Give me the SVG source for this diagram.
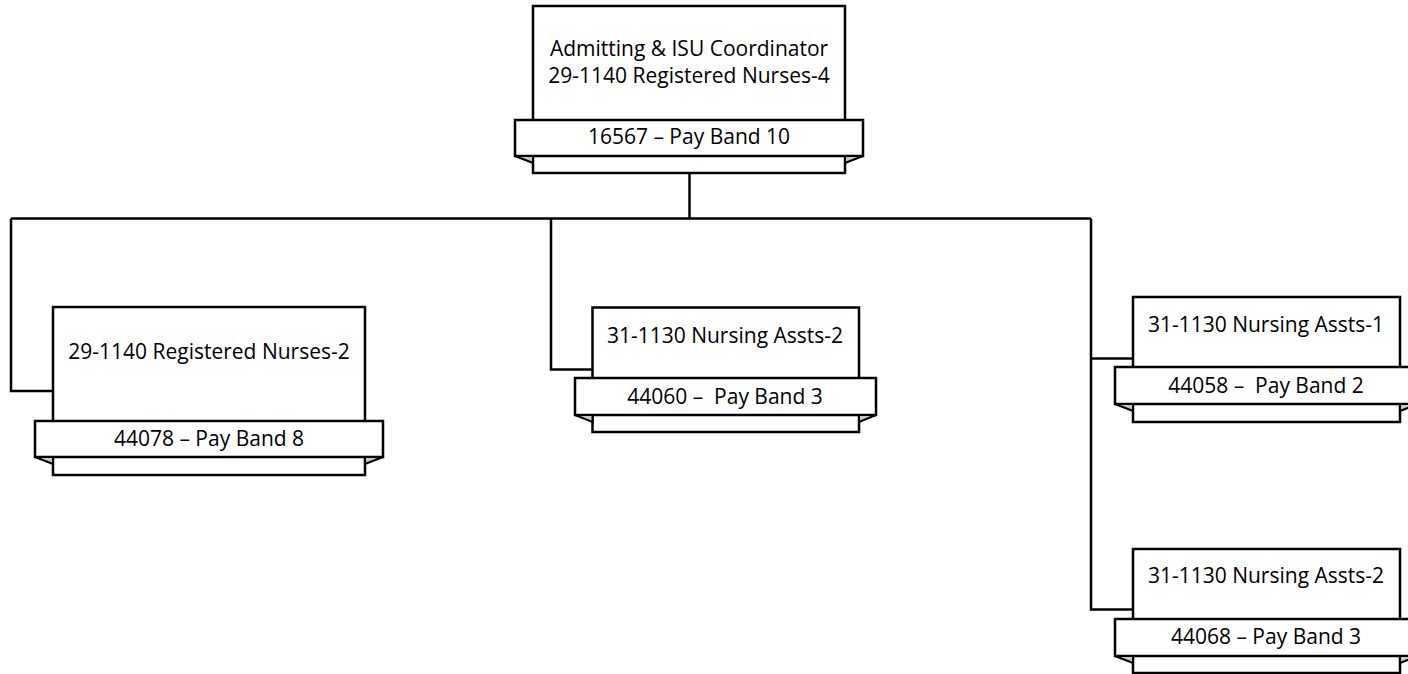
<svg xmlns="http://www.w3.org/2000/svg" width="1408" height="674" viewBox="0 0 1408 674">
<style>
.box{fill:#fff;stroke:#000;stroke-width:2.5}
.rib{fill:#fff;stroke:#000;stroke-width:2.5}
.fold{fill:#c8c8c8;stroke:#000;stroke-width:2;stroke-linejoin:miter}
.conn{fill:none;stroke:#000;stroke-width:2.5}
text{font-family:"Open Sans","Liberation Sans",sans-serif;font-size:21px;fill:#000;text-anchor:middle}
</style>
<rect width="1408" height="674" fill="#fff"/>
<g id="connectors">
<path class="conn" d="M689.5,173 V218.5 M11,218.5 H1091 M11,218.5 V391 H53 M551,218.5 V369.5 H592.5 M1091,218.5 V609.5 H1133 M1091,358.5 H1133"/>
</g>
<g id="node-top">
<rect class="box" x="533" y="6" width="312" height="167"/>
<rect class="rib" x="515" y="120" width="348" height="36"/>
<polygon class="fold" points="515,156 533,163 533,156"/>
<polygon class="fold" points="863,156 845,163 845,156"/>
<text x="689" y="56">Admitting &amp; ISU Coordinator</text>
<text x="689" y="83">29-1140 Registered Nurses-4</text>
<text x="689" y="144">16567 – Pay Band 10</text>
</g>
<g id="node-left">
<rect class="box" x="53" y="307" width="312" height="168"/>
<rect class="rib" x="35" y="421" width="348" height="36"/>
<polygon class="fold" points="35,457 53,464 53,457"/>
<polygon class="fold" points="383,457 365,464 365,457"/>
<text x="209" y="359">29-1140 Registered Nurses-2</text>
<text x="209" y="446">44078 – Pay Band 8</text>
</g>
<g id="node-mid">
<rect class="box" x="592.5" y="307.5" width="266.5" height="124.5"/>
<rect class="rib" x="575" y="378" width="301" height="37"/>
<polygon class="fold" points="575,415 592.5,422 592.5,415"/>
<polygon class="fold" points="876,415 859,422 859,415"/>
<text x="725" y="343">31-1130 Nursing Assts-2</text>
<text x="725" y="404" xml:space="preserve">44060 –  Pay Band 3</text>
</g>
<g id="node-right1">
<rect class="box" x="1133" y="297" width="267" height="125"/>
<rect class="rib" x="1115" y="367" width="303" height="37"/>
<polygon class="fold" points="1115,404 1133,411 1133,404"/>
<polygon class="fold" points="1418,404 1400,411 1400,404"/>
<text x="1266" y="332">31-1130 Nursing Assts-1</text>
<text x="1266" y="393" xml:space="preserve">44058 –  Pay Band 2</text>
</g>
<g id="node-right2">
<rect class="box" x="1133" y="549" width="267" height="124"/>
<rect class="rib" x="1115" y="619" width="303" height="37"/>
<polygon class="fold" points="1115,656 1133,663 1133,656"/>
<polygon class="fold" points="1418,656 1400,663 1400,656"/>
<text x="1266" y="583">31-1130 Nursing Assts-2</text>
<text x="1266" y="644">44068 – Pay Band 3</text>
</g>
</svg>
